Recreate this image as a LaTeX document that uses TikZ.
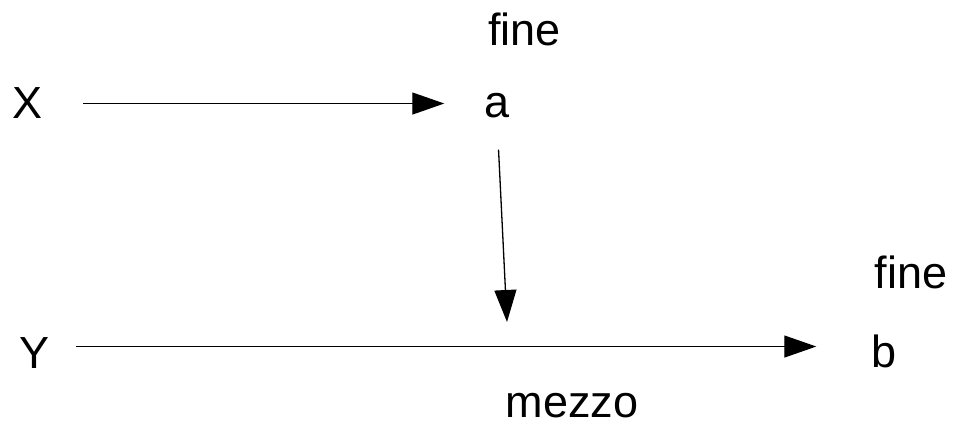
\documentclass[tikz,border=0pt]{standalone}
\usepackage{fontspec}
\setmainfont{Liberation Sans}
\usetikzlibrary{arrows.meta}
\tikzset{
	lbl/.style={inner sep=0pt, anchor=base, font=\fontsize{45}{54}\selectfont},
	arr/.style={line width=1.3pt, -{Triangle[length=32pt, width=22pt]}}
}

\begin{document}
\begin{tikzpicture}[x=1pt, y=-1pt]
			%%%%% START %%%%%
			
			\useasboundingbox (0, 0) rectangle (957, 430);
			
			\node[lbl] (X) at (28, 119) {X};
			\node[lbl] (a) at (497, 118) {a};
			\node[lbl] (fineA) at (524.5, 46) {fine};
			
			\node[lbl] (Y) at (35, 368) {Y};
			\node[lbl] (b) at (884, 367) {b};
			\node[lbl] (fineB) at (911, 288) {fine};
			\node[lbl] (mezzo) at (572, 417) {mezzo};
			
			\coordinate (m) at (507, 322);
			
			\draw[arr, shorten <=40pt, shorten >=40pt] (X.east) -- (X.east -| a.west);
			\draw[arr, shorten <=31pt] (a.south) -- (m);
			\draw[arr, shorten <=26pt, shorten >=55pt] ([yshift=6pt]Y.east) -- ([yshift=6pt]Y.east -| b.west);
			
			%%%%% END %%%%%
		\end{tikzpicture}
\end{document}
